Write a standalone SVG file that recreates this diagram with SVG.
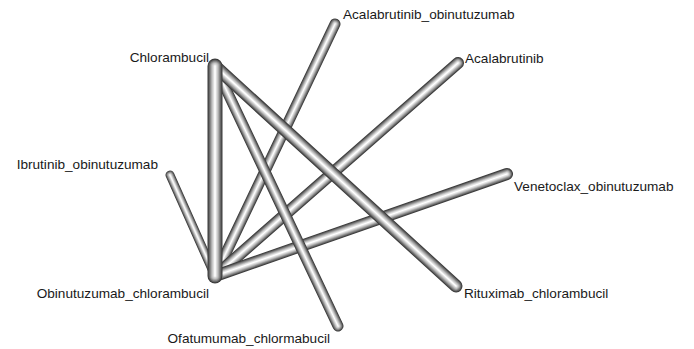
<svg xmlns="http://www.w3.org/2000/svg" xmlns:xlink="http://www.w3.org/1999/xlink" width="694" height="349" viewBox="0 0 694 349">
<style>
text{font-family:"Liberation Sans",Arial,sans-serif;font-size:13.6px;fill:#1a1a1a}
use,line{fill:none;stroke-linecap:round}
.l1{stroke:#3c3c3c}.l2{stroke:#626262}.l3{stroke:#888}.l4{stroke:#acacac}.l5{stroke:#cbcbcb}.l6{stroke:#e6e6e6}.l7{stroke:#fff}
</style>
<defs>
<path id="e_chl_obi" d="M215,66L215,276"/>
<path id="e_chl_rit" d="M215,66L456,286"/>
<path id="e_chl_ofa" d="M215,66L338,326"/>
<path id="e_obi_ao" d="M215,276L335,24"/>
<path id="e_obi_ac" d="M215,276L458,63"/>
<path id="e_obi_ven" d="M215,276L507,174"/>
<path id="e_obi_ibr" d="M215,276L170,175"/>
</defs>
<g id="connectors">
<g id="edge_obi_ibr"><use xlink:href="#e_obi_ibr" class="l1" stroke-width="9"/><use xlink:href="#e_obi_ibr" class="l2" stroke-width="7.6"/><use xlink:href="#e_obi_ibr" class="l3" stroke-width="6.2"/><use xlink:href="#e_obi_ibr" class="l4" stroke-width="4.8"/><use xlink:href="#e_obi_ibr" class="l5" stroke-width="3.4"/><use xlink:href="#e_obi_ibr" class="l6" stroke-width="2"/><use xlink:href="#e_obi_ibr" class="l7" stroke-width="0.8"/></g>
<g id="edge_obi_ao"><use xlink:href="#e_obi_ao" class="l1" stroke-width="11"/><use xlink:href="#e_obi_ao" class="l2" stroke-width="9.3"/><use xlink:href="#e_obi_ao" class="l3" stroke-width="7.6"/><use xlink:href="#e_obi_ao" class="l4" stroke-width="5.9"/><use xlink:href="#e_obi_ao" class="l5" stroke-width="4.2"/><use xlink:href="#e_obi_ao" class="l6" stroke-width="2.5"/><use xlink:href="#e_obi_ao" class="l7" stroke-width="1"/></g>
<g id="edge_obi_ac"><use xlink:href="#e_obi_ac" class="l1" stroke-width="12"/><use xlink:href="#e_obi_ac" class="l2" stroke-width="10.2"/><use xlink:href="#e_obi_ac" class="l3" stroke-width="8.4"/><use xlink:href="#e_obi_ac" class="l4" stroke-width="6.6"/><use xlink:href="#e_obi_ac" class="l5" stroke-width="4.8"/><use xlink:href="#e_obi_ac" class="l6" stroke-width="3"/><use xlink:href="#e_obi_ac" class="l7" stroke-width="1.2"/></g>
<g id="edge_obi_ven"><use xlink:href="#e_obi_ven" class="l1" stroke-width="12"/><use xlink:href="#e_obi_ven" class="l2" stroke-width="10.2"/><use xlink:href="#e_obi_ven" class="l3" stroke-width="8.4"/><use xlink:href="#e_obi_ven" class="l4" stroke-width="6.6"/><use xlink:href="#e_obi_ven" class="l5" stroke-width="4.8"/><use xlink:href="#e_obi_ven" class="l6" stroke-width="3"/><use xlink:href="#e_obi_ven" class="l7" stroke-width="1.2"/></g>
<g id="edge_chl_ofa"><use xlink:href="#e_chl_ofa" class="l1" stroke-width="11"/><use xlink:href="#e_chl_ofa" class="l2" stroke-width="9.3"/><use xlink:href="#e_chl_ofa" class="l3" stroke-width="7.6"/><use xlink:href="#e_chl_ofa" class="l4" stroke-width="5.9"/><use xlink:href="#e_chl_ofa" class="l5" stroke-width="4.2"/><use xlink:href="#e_chl_ofa" class="l6" stroke-width="2.5"/><use xlink:href="#e_chl_ofa" class="l7" stroke-width="1"/></g>
<g id="edge_chl_rit"><use xlink:href="#e_chl_rit" class="l1" stroke-width="13"/><use xlink:href="#e_chl_rit" class="l2" stroke-width="11"/><use xlink:href="#e_chl_rit" class="l3" stroke-width="9"/><use xlink:href="#e_chl_rit" class="l4" stroke-width="7"/><use xlink:href="#e_chl_rit" class="l5" stroke-width="5"/><use xlink:href="#e_chl_rit" class="l6" stroke-width="3"/><use xlink:href="#e_chl_rit" class="l7" stroke-width="1.2"/></g>
<g id="edge_chl_obi"><use xlink:href="#e_chl_obi" class="l1" stroke-width="15"/><use xlink:href="#e_chl_obi" class="l2" stroke-width="12.7"/><use xlink:href="#e_chl_obi" class="l3" stroke-width="10.4"/><use xlink:href="#e_chl_obi" class="l4" stroke-width="8.1"/><use xlink:href="#e_chl_obi" class="l5" stroke-width="5.8"/><use xlink:href="#e_chl_obi" class="l6" stroke-width="3.5"/><use xlink:href="#e_chl_obi" class="l7" stroke-width="1.4"/></g>
</g>
<g id="node_chlorambucil"><text x="209" y="62" text-anchor="end">Chlorambucil</text></g>
<g id="node_acalabrutinib_obinutuzumab"><text x="343" y="19">Acalabrutinib_obinutuzumab</text></g>
<g id="node_acalabrutinib"><text x="465" y="63">Acalabrutinib</text></g>
<g id="node_venetoclax_obinutuzumab"><text x="514" y="191">Venetoclax_obinutuzumab</text></g>
<g id="node_rituximab_chlorambucil"><text x="464" y="298">Rituximab_chlorambucil</text></g>
<g id="node_ibrutinib_obinutuzumab"><text x="158" y="169" text-anchor="end">Ibrutinib_obinutuzumab</text></g>
<g id="node_obinutuzumab_chlorambucil"><text x="209" y="298" text-anchor="end">Obinutuzumab_chlorambucil</text></g>
<g id="node_ofatumumab_chlormabucil"><text x="330" y="343" text-anchor="end">Ofatumumab_chlormabucil</text></g>
</svg>
